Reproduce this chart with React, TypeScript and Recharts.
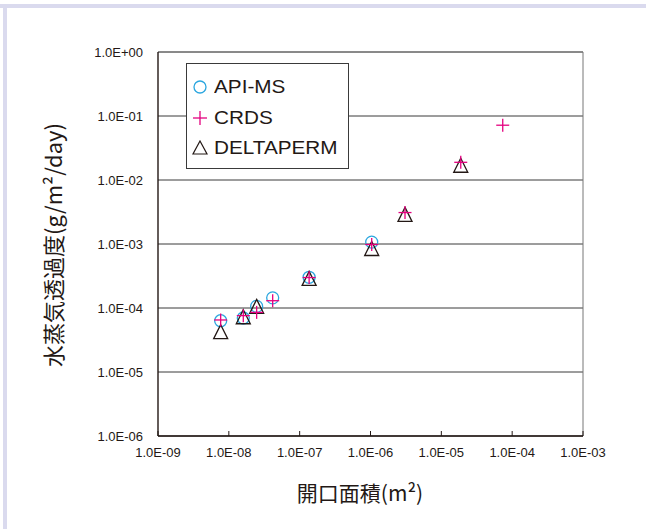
import React from 'react';
import { ScatterChart, Scatter, XAxis, YAxis, CartesianGrid, Legend, ReferenceLine } from 'recharts';

// axis ticks (log decades)
const xTicks = [1e-9, 1e-8, 1e-7, 1e-6, 1e-5, 1e-4, 1e-3];
const xTickLabels = ['1.0E-09', '1.0E-08', '1.0E-07', '1.0E-06', '1.0E-05', '1.0E-04', '1.0E-03'];
const yTicks = [1e-6, 1e-5, 1e-4, 1e-3, 1e-2, 1e-1, 1];
const yTickLabels = ['1.0E-06', '1.0E-05', '1.0E-04', '1.0E-03', '1.0E-02', '1.0E-01', '1.0E+00'];

// API-MS
const apiMsArea = [7.67e-9, 1.6e-8, 2.47e-8, 4.16e-8, 1.36e-7, 1.04e-6];
const apiMsRate = [6.33e-5, 6.98e-5, 1.06e-4, 1.44e-4, 3.02e-4, 1.07e-3];

// CRDS
const crdsArea = [7.67e-9, 1.6e-8, 2.47e-8, 4.16e-8, 1.36e-7, 1.04e-6, 3.07e-6, 1.88e-5, 7.36e-5];
const crdsRate = [6.5e-5, 7.6e-5, 8.54e-5, 1.3e-4, 2.99e-4, 9.82e-4, 3.1e-3, 1.89e-2, 7.18e-2];

// DELTAPERM
const deltaArea = [7.67e-9, 1.6e-8, 2.47e-8, 1.36e-7, 1.04e-6, 3.07e-6, 1.88e-5];
const deltaRate = [4.26e-5, 7.3e-5, 1.06e-4, 2.9e-4, 8.5e-4, 2.9e-3, 1.7e-2];

const legendNames = ['API-MS', 'CRDS', 'DELTAPERM'];

const toPoints = (xs: number[], ys: number[]) => xs.map((x, i) => ({ x, y: ys[i] }));

const BLUE = '#2aa6df';
const PINK = '#e4007f';
const INK = '#231815';
const LATIN = '"Liberation Sans", Arial, sans-serif';
const CJK = '"Noto Sans CJK JP", "Noto Sans", sans-serif';

const Circle = (p: any) => <circle cx={p.cx} cy={p.cy} r={6} fill="none" stroke={BLUE} strokeWidth={1.3} />;
const Plus = (p: any) => (
  <g stroke={PINK} strokeWidth={1.3}>
    <line x1={p.cx - 6.5} x2={p.cx + 6.5} y1={p.cy} y2={p.cy} />
    <line x1={p.cx} x2={p.cx} y1={p.cy - 6.5} y2={p.cy + 6.5} />
  </g>
);
const Triangle = (p: any) => (
  <path
    d={`M${p.cx},${p.cy - 7} L${p.cx + 7},${p.cy + 7} L${p.cx - 7},${p.cy + 7} Z`}
    fill="none"
    stroke={INK}
    strokeWidth={1.3}
  />
);

const tickIndex = (ticks: number[], v: number) =>
  ticks.findIndex((t) => Math.abs(Math.log10(t) - Math.log10(v)) < 1e-6);

const XTick = (props: any) => {
  const { x, y, payload } = props;
  return (
    <g>
      <line x1={x} x2={x} y1={y} y2={y - 5} stroke={INK} />
      <text x={x} y={y + 21} textAnchor="middle" fontSize={13} fontFamily={LATIN} fill={INK}>
        {xTickLabels[tickIndex(xTicks, payload.value)]}
      </text>
    </g>
  );
};

const legendMarks = [
  <circle cx={8} cy={8} r={6} fill="none" stroke={BLUE} strokeWidth={1.3} />,
  <g stroke={PINK} strokeWidth={1.3}>
    <line x1={1} x2={15} y1={8} y2={8} />
    <line x1={8} x2={8} y1={1} y2={15} />
  </g>,
  <path d="M8,1 L15,14 L1,14 Z" fill="none" stroke={INK} strokeWidth={1.2} />,
];

const LegendBox = () => (
  <div
    style={{
      position: 'relative',
      width: 163,
      height: 106,
      border: '1px solid #3a3a3a',
      boxSizing: 'border-box',
      background: '#fff',
    }}
  >
    {legendNames.map((name, i) => (
      <div
        key={name}
        style={{
          position: 'absolute',
          left: 5,
          top: 8 + i * 30.5,
          height: 30,
          display: 'flex',
          alignItems: 'center',
          whiteSpace: 'nowrap',
        }}
      >
        <svg width={16} height={16}>{legendMarks[i]}</svg>
        <span
          style={{
            marginLeft: 6,
            fontFamily: LATIN,
            fontSize: 18.5,
            color: INK,
            display: 'inline-block',
            transform: 'scaleX(1.12)',
            transformOrigin: 'left center',
          }}
        >
          {name}
        </span>
      </div>
    ))}
  </div>
);

export default function App() {
  return (
    <div style={{ position: 'absolute', left: 0, top: 0, width: 646, height: 529, background: '#fff' }}>
      <div style={{ position: 'absolute', left: 0, top: 4, width: 646, height: 4, background: '#dadaee' }} />
      <div style={{ position: 'absolute', left: 3, top: 4, width: 4, height: 525, background: '#dadaee' }} />
      <div style={{ position: 'absolute', left: 0, top: 0 }}>
        <ScatterChart width={646} height={529} margin={{ top: 52, right: 63, left: 0, bottom: 0 }}>
          <CartesianGrid horizontal vertical={false} stroke="#3a3a3a" />
          <XAxis
            type="number"
            dataKey="x"
            scale="log"
            domain={[1e-9, 1e-3]}
            ticks={xTicks}
            allowDataOverflow
            interval={0}
            height={93}
            tickSize={0}
            tickMargin={0}
            tickLine={false}
            axisLine={{ stroke: INK, strokeWidth: 1.4 }}
            tick={<XTick />}
            label={{
              content: () => (
                <text x={360} y={492} textAnchor="middle" dominantBaseline="central" fontSize={21} fontFamily={CJK} fill={INK}>
                  開口面積(m²)
                </text>
              ),
            }}
          />
          <YAxis
            type="number"
            dataKey="y"
            scale="log"
            domain={[1e-6, 1]}
            ticks={yTicks}
            allowDataOverflow
            interval={0}
            width={158}
            tickSize={0}
            tickMargin={15}
            tickLine={false}
            axisLine={{ stroke: INK, strokeWidth: 1.4 }}
            tick={{ fontSize: 13, fontFamily: LATIN, fill: INK }}
            tickFormatter={(v: number) => yTickLabels[tickIndex(yTicks, v)]}
            label={{
              content: () => (
                <text
                  x={52}
                  y={245}
                  transform="rotate(-90, 52, 245)"
                  textAnchor="middle"
                  dominantBaseline="central"
                  fontSize={22}
                  fontFamily={CJK}
                  fill={INK}
                >
                  水蒸気透過度(g/m²/day)
                </text>
              ),
            }}
          />
          <ReferenceLine x={1e-3} stroke="#777" />
          <ReferenceLine y={1} stroke="#777" />
          <Scatter name="API-MS" data={toPoints(apiMsArea, apiMsRate)} shape={Circle} isAnimationActive={false} />
          <Scatter name="DELTAPERM" data={toPoints(deltaArea, deltaRate)} shape={Triangle} isAnimationActive={false} />
          <Scatter name="CRDS" data={toPoints(crdsArea, crdsRate)} shape={Plus} isAnimationActive={false} />
          <Legend
            layout="vertical"
            align="center"
            verticalAlign="middle"
            content={<LegendBox />}
            wrapperStyle={{ left: 186, top: 63, width: 163, height: 106 }}
          />
        </ScatterChart>
      </div>
    </div>
  );
}
